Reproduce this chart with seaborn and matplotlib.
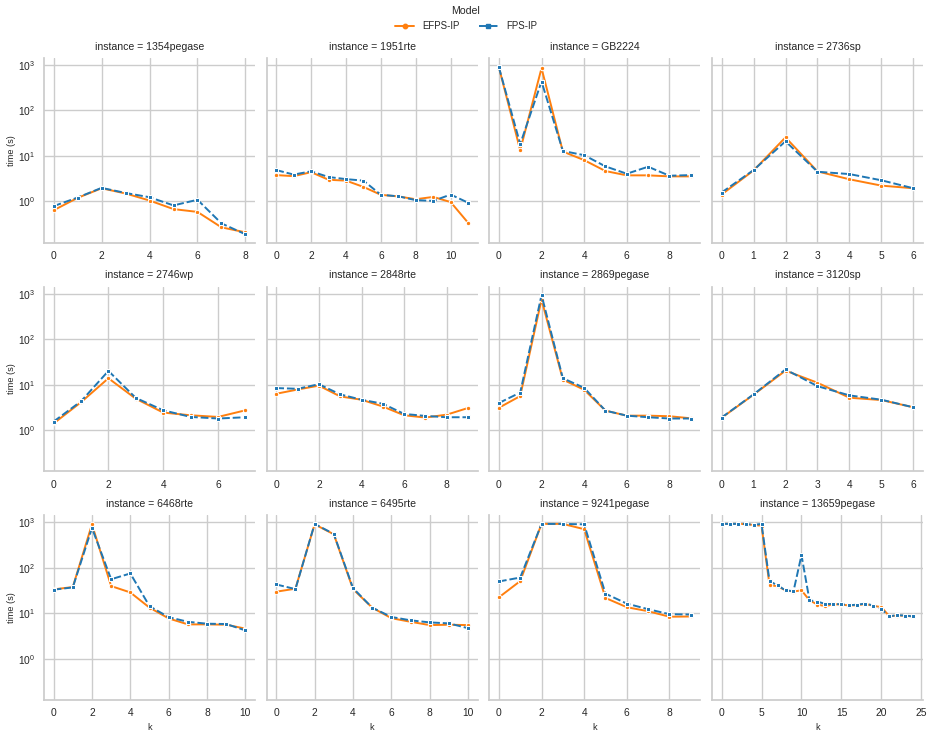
import matplotlib
matplotlib.use("Agg")
import matplotlib.pyplot as plt
from matplotlib.ticker import MultipleLocator
import pandas as pd
import seaborn as sns

instances = ["1354pegase", "1951rte", "GB2224", "2736sp",
             "2746wp", "2848rte", "2869pegase", "3120sp",
             "6468rte", "6495rte", "9241pegase", "13659pegase"]
models = ["EFPS-IP", "FPS-IP"]
k_tick_steps = [2, 2, 2, 1, 2, 2, 2, 1, 2, 2, 2, 5]

efps_1354pegase = [0.64, 1.2, 1.95, 1.5, 1.05, 0.68, 0.59, 0.27, 0.21]
fps_1354pegase = [0.79, 1.22, 1.99, 1.54, 1.24, 0.82, 1.09, 0.33, 0.19]

efps_1951rte = [3.8, 3.6, 4.4, 3.0, 2.87, 2.09, 1.4, 1.29, 1.12, 1.26, 0.97, 0.34]
fps_1951rte = [4.9, 3.9, 4.6, 3.45, 3.1, 2.87, 1.4, 1.3, 1.07, 1.03, 1.42, 0.94]

efps_GB2224 = [890, 13.4, 850, 12.5, 8.1, 4.66, 3.75, 3.75, 3.56, 3.56]
fps_GB2224 = [890, 18.3, 433, 12.9, 10.4, 5.9, 4.07, 5.8, 3.68, 3.8]

efps_2736sp = [1.42, 4.8, 25.6, 4.58, 3.07, 2.23, 1.95]
fps_2736sp = [1.57, 4.9, 21.0, 4.5, 4.0, 2.92, 1.95]

efps_2746wp = [1.4, 4.1, 13.8, 4.9, 2.43, 2.12, 1.95, 2.73]
fps_2746wp = [1.54, 4.3, 20.0, 5.1, 2.73, 1.95, 1.8, 1.92]

efps_2848rte = [6.3, 7.8, 9.5, 5.5, 4.66, 3.3, 2.12, 1.89, 2.19, 3.07]
fps_2848rte = [8.4, 8.1, 10.2, 6.1, 4.66, 3.8, 2.27, 2.05, 1.92, 1.92]

efps_2869pegase = [3.1, 5.6, 740, 12.9, 7.7, 2.68, 2.08, 2.08, 2.02, 1.82]
fps_2869pegase = [3.94, 6.7, 930, 13.8, 8.5, 2.68, 2.08, 1.92, 1.8, 1.8]

efps_3120sp = [1.86, 6.0, 20.3, 11.0, 5.15, 4.58, 3.17]
fps_3120sp = [1.89, 6.1, 21.5, 9.25, 5.8, 4.66, 3.17]

efps_6468rte = [33.5, 37.7, 900, 39.6, 28.7, 13.3, 7.7, 5.7, 5.7, 5.6, 4.6]
fps_6468rte = [33, 37, 750, 56, 75, 14.3, 8.2, 6.5, 5.9, 5.8, 4.2]

efps_6495rte = [29.8, 34.7, 900, 545, 34, 13.3, 7.8, 6.5, 5.5, 5.6, 5.5]
fps_6495rte = [43, 34, 920, 555, 35.8, 13.3, 8.3, 7.0, 6.3, 6.0, 4.7]

efps_9241pegase = [22.4, 51, 920, 920, 705, 21.7, 13.6, 11.1, 8.4, 8.5]
fps_9241pegase = [50, 61, 920, 920, 900, 27, 16.3, 12.3, 9.55, 9.4]

efps_13659pegase = [920, 920, 920, 910, 870, 840, 42, 39, 32, 30, 32, 19.3, 15.5,
                    14.3, 15.8, 15.5, 14.8, 15, 16, 14.6, 13.6, 8.6, 8.9, 8.8, 8.5]
fps_13659pegase = [920, 920, 920, 920, 880, 920, 51, 41, 32, 30.5, 190, 19.3, 18,
                   16, 16, 15.8, 15, 15.5, 16.3, 14.8, 12.3, 8.6, 9.1, 8.9, 8.5]

efps_times = [efps_1354pegase, efps_1951rte, efps_GB2224, efps_2736sp,
              efps_2746wp, efps_2848rte, efps_2869pegase, efps_3120sp,
              efps_6468rte, efps_6495rte, efps_9241pegase, efps_13659pegase]
fps_times = [fps_1354pegase, fps_1951rte, fps_GB2224, fps_2736sp,
             fps_2746wp, fps_2848rte, fps_2869pegase, fps_3120sp,
             fps_6468rte, fps_6495rte, fps_9241pegase, fps_13659pegase]

rows = []
for inst, e_vals, f_vals in zip(instances, efps_times, fps_times):
    for k, v in enumerate(e_vals):
        rows.append((inst, k, models[0], v))
    for k, v in enumerate(f_vals):
        rows.append((inst, k, models[1], v))
df = pd.DataFrame(rows, columns=["instance", "k", "Model", "time (s)"])

sns.set_theme(style="whitegrid", font_scale=0.63)
plt.rcParams.update({
    "font.family": ["Liberation Sans", "DejaVu Sans"],
    "axes.labelsize": 7.56,
    "xtick.labelsize": 7.4, "ytick.labelsize": 7.4,
    "xtick.major.size": 0, "ytick.major.size": 0,
    "xtick.major.pad": 6.0, "ytick.major.pad": 6.5,
})

g = sns.relplot(
    data=df, x="k", y="time (s)", hue="Model", style="Model",
    hue_order=models, style_order=models,
    col="instance", col_wrap=4, col_order=instances, kind="line",
    markers=["o", "s"], palette=["#ff7f0e", "#1f77b4"],
    facet_kws=dict(sharex=False), height=2.0, aspect=1.13,
    markersize=3.2, linewidth=1.4,
)
g.set(yscale="log")
g.set_ylabels("time (s)", fontsize=6.6, labelpad=1)
g.set_xlabels("k", fontsize=6.6, labelpad=3)
for ax, step in zip(g.axes.flat, k_tick_steps):
    ax.xaxis.set_major_locator(MultipleLocator(step))
g.figure.set_size_inches(9.32, 7.38)
g.figure.subplots_adjust(left=44 / 932, right=923 / 932, top=1 - 58 / 738,
                         bottom=1 - 700 / 738, wspace=0.055, hspace=0.238)
sns.move_legend(g, "upper center", bbox_to_anchor=(0.5, 1.003), ncol=2,
                frameon=False, title="Model")
g.figure.savefig("out.png", dpi=100)
